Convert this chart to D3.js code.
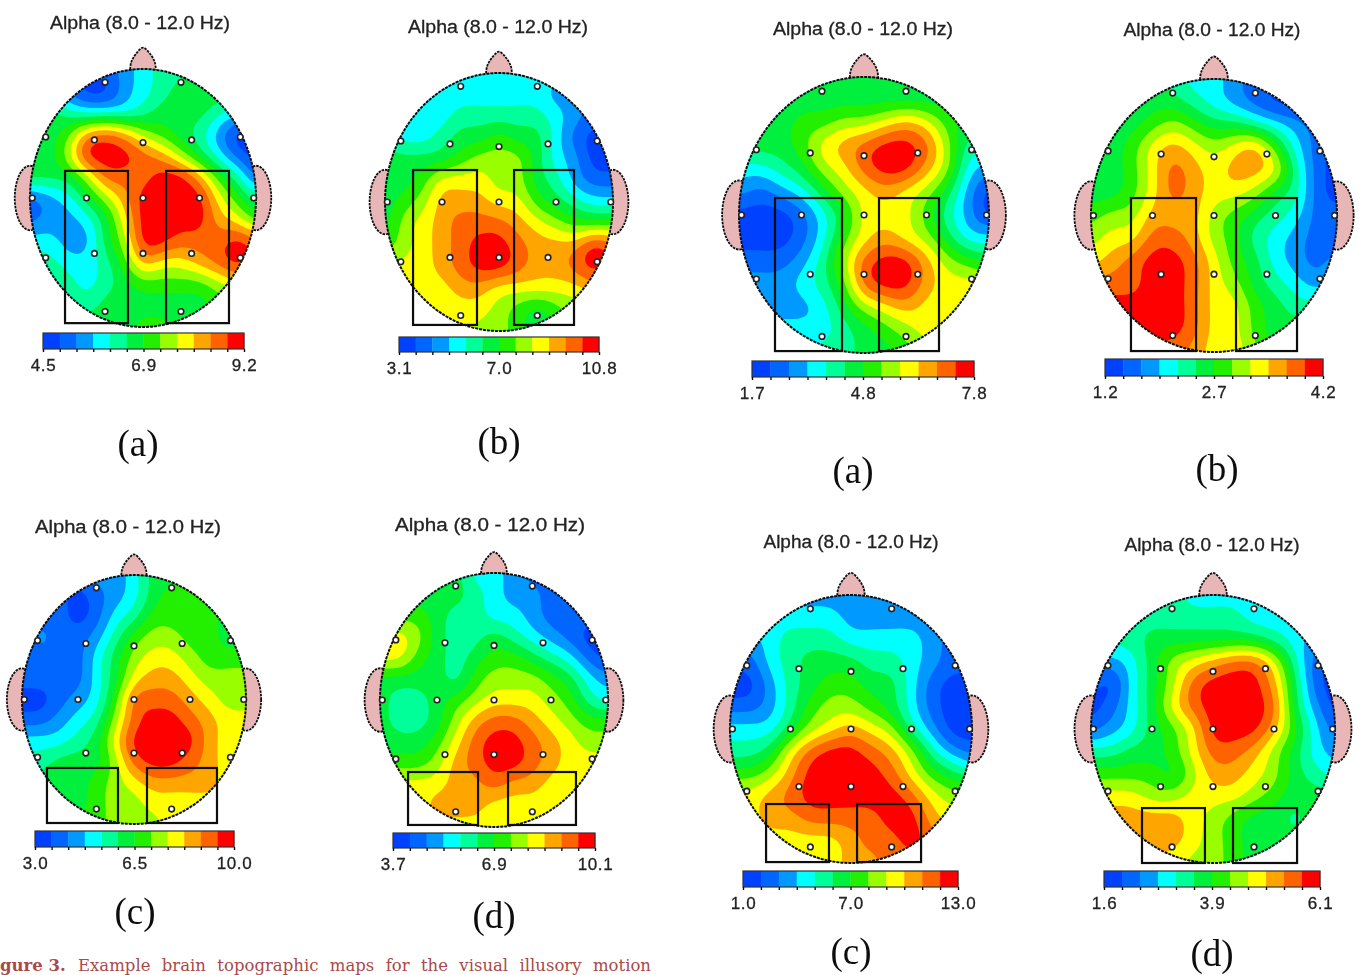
<!DOCTYPE html>
<html lang="en">
<head>
<meta charset="UTF-8">
<title>Alpha topographic maps</title>
<script src="https://cdn.jsdelivr.net/npm/d3@7"></script>
<style>
  html, body { margin: 0; padding: 0; background: #fff; overflow: hidden; }
  svg { display: block; }
  text { font-family: "Liberation Sans", Arial, sans-serif; fill: #222; }
  .panel-label { font-family: "Liberation Serif", serif; font-size: 37px; fill: #111; }
  .caption { font-family: "DejaVu Serif", serif; font-size: 16.5px; fill: #a84a4a; }
</style>
</head>
<body>
<svg id="chart" width="1359" height="975"></svg>
<script>
// 12 colour bands of the scale, blue to red
const bandColors = ["#0040ff", "#0066ff", "#0099ff", "#00ffff", "#00ff99", "#00f03c",
                    "#22f000", "#99ff00", "#ffff00", "#ffa500", "#ff6400", "#ff0000"];

// electrode positions in head units (-1..1), 10-20 layout
const electrodeX = [-.336, .336, -.861, -.43, 0, .43, .861, -.98, -.5, 0, .5, .98, -.861, -.43, 0, .43, .861, -.336, .336];
const electrodeY = [-.897, -.897, -.473, -.45, -.43, -.45, -.473, 0, 0, 0, 0, 0, .464, .43, .43, .43, .464, .88, .88];

// nose outline in head units
const noseOutline = [[-.115, -.97], [-.105, -1.05], [-.06, -1.12], [0, -1.165], [.06, -1.12], [.105, -1.05], [.115, -.97]];

// colour band, 13 x 13 nodes across the head
const mapA1 = [
  [2,2,1,1,1,2,3,4,4,5,5,5,5],
  [2,2,1,0,0,2,3,4,5,5,5,5,5],
  [5,5,4,3,3,3,4,5,5,5,4,3,3],
  [5,5,6,9,10,9,7,6,5,4,2,0,0],
  [5,5,7,11,11,11,10,9,7,5,3,1,0],
  [5,5,5,7,10,10,10,11,11,9,6,4,1],
  [1,2,3,5,7,9,11,11,11,11,8,6,4],
  [1,2,2,3,5,8,11,11,11,11,9,8,6],
  [3,3,2,2,5,7,11,11,10,10,10,11,10],
  [4,4,3,3,4,6,9,8,8,9,10,11,10],
  [5,5,4,3,4,5,6,6,6,6,7,8,8],
  [5,5,5,4,5,5,5,5,5,5,6,6,6],
  [5,5,5,5,5,5,6,6,5,5,5,5,5]
];
const mapB1 = [
  [3,3,3,3,3,3,3,3,3,3,2,2,2],
  [3,3,3,3,3,3,3,3,3,2,2,1,1],
  [3,3,3,3,4,4,4,4,4,3,2,1,1],
  [4,3,3,4,5,5,6,5,5,3,1,0,0],
  [5,5,5,5,6,7,7,7,5,3,2,0,0],
  [5,5,6,8,8,8,7,7,5,4,2,1,1],
  [5,6,7,9,9,9,8,8,6,5,4,3,3],
  [5,7,8,9,10,10,10,9,8,7,6,6,6],
  [6,7,8,9,10,11,11,10,9,9,9,11,10],
  [7,8,8,9,10,11,11,10,9,9,10,11,10],
  [8,8,8,8,9,9,8,8,8,8,8,9,9],
  [8,8,8,8,8,8,7,6,5,6,7,7,7],
  [8,8,8,8,8,7,7,6,5,6,6,6,6]
];
const mapC1 = [
  [5,5,5,5,5,5,5,5,5,5,5,5,5],
  [4,4,4,5,5,5,5,5,5,5,5,5,5],
  [5,5,5,6,6,7,7,8,9,8,6,5,5],
  [5,5,5,6,8,9,10,11,11,10,7,4,4],
  [3,3,4,5,7,8,10,11,11,9,7,3,2],
  [2,1,2,3,5,7,8,9,8,7,5,2,0],
  [0,0,0,1,3,5,8,8,8,6,4,2,0],
  [0,0,0,1,3,6,8,9,8,7,5,3,3],
  [1,1,1,2,4,7,10,11,11,9,7,6,5],
  [2,2,2,3,4,6,10,11,11,9,8,8,8],
  [2,2,2,2,3,5,7,8,9,8,8,8,8],
  [3,3,3,3,3,4,5,6,7,8,8,8,8],
  [3,3,3,3,4,4,5,5,6,7,7,7,7]
];
const mapD1 = [
  [5,5,5,5,4,3,3,2,1,1,1,1,1],
  [5,5,5,5,5,4,3,2,1,0,0,0,0],
  [5,5,5,6,7,6,5,5,4,3,2,1,0],
  [5,5,6,8,9,8,7,8,9,6,3,1,0],
  [5,5,6,8,10,9,8,9,9,8,4,1,0],
  [5,5,6,8,10,9,8,8,7,5,4,1,0],
  [6,7,7,9,9,9,7,6,5,4,3,1,1],
  [7,8,8,10,10,9,7,6,4,3,2,1,1],
  [8,9,10,11,11,10,8,6,5,3,2,1,2],
  [10,10,10,11,11,10,8,7,5,4,3,2,3],
  [11,11,11,11,11,10,8,8,6,5,4,4,4],
  [11,11,11,11,11,10,8,8,6,5,5,5,5],
  [10,10,10,10,10,9,8,8,7,5,5,5,5]
];
const mapA2 = [
  [1,1,1,1,2,2,3,5,5,5,5,5,5],
  [1,1,1,0,1,2,3,5,6,6,6,6,6],
  [1,1,1,0,1,3,4,6,6,6,6,5,5],
  [1,2,1,1,2,4,6,7,7,6,6,5,5],
  [1,1,1,1,3,5,7,8,8,7,6,6,6],
  [1,1,1,1,3,5,8,9,9,8,7,7,7],
  [0,0,1,2,3,6,10,10,10,9,8,7,7],
  [1,1,2,3,4,7,10,11,11,10,9,8,8],
  [3,3,3,4,5,8,11,11,11,11,9,8,8],
  [4,4,5,5,5,7,10,11,11,10,9,8,8],
  [5,5,5,5,6,7,8,9,9,9,9,8,8],
  [5,5,5,5,6,7,7,8,8,8,8,8,8],
  [5,5,5,6,6,7,7,7,8,8,8,8,8]
];
const mapB2 = [
  [5,5,5,5,5,3,3,2,1,1,1,0,0],
  [5,5,5,5,5,4,3,2,2,1,1,1,0],
  [6,6,6,5,4,4,3,3,2,1,1,1,0],
  [8,8,7,5,4,4,5,4,3,2,1,0,0],
  [8,8,6,5,4,5,6,6,5,4,3,1,0],
  [5,5,5,5,4,6,7,7,7,6,5,3,2],
  [5,4,4,5,6,7,8,8,8,7,6,4,3],
  [5,4,4,5,7,9,10,10,9,8,7,6,6],
  [5,5,5,6,8,10,11,11,10,9,8,7,7],
  [6,6,6,7,9,10,11,11,10,9,8,8,8],
  [8,8,8,8,9,9,10,9,9,8,8,8,8],
  [8,8,8,9,9,9,8,8,8,8,8,8,8],
  [8,8,8,8,8,8,8,8,8,8,8,8,8]
];
const mapC2 = [
  [2,2,2,2,2,2,2,2,2,2,2,2,2],
  [3,3,3,3,3,3,2,2,2,2,2,2,2],
  [2,2,3,4,4,4,3,3,3,3,2,1,1],
  [1,1,3,4,5,5,5,4,4,3,2,1,1],
  [0,0,2,4,5,6,6,5,5,3,1,0,0],
  [1,1,2,4,6,7,7,6,5,3,1,0,0],
  [3,3,3,5,7,8,9,8,7,4,2,0,0],
  [4,4,5,8,10,11,11,10,9,7,4,2,1],
  [6,6,7,9,11,11,11,11,10,8,6,5,4],
  [8,8,9,10,11,11,11,11,11,10,8,7,7],
  [8,8,9,9,10,10,10,10,11,11,9,8,8],
  [8,8,8,8,8,8,9,10,10,11,10,9,9],
  [8,8,8,8,8,8,9,9,10,10,10,10,10]
];
const mapD2 = [
  [4,4,4,4,4,3,3,3,3,3,3,3,3],
  [4,4,4,4,4,4,4,4,3,3,3,3,3],
  [4,4,4,5,5,5,5,5,5,4,3,2,2],
  [2,2,3,5,7,8,9,10,10,8,4,1,0],
  [1,0,3,5,7,10,11,11,11,9,5,1,0],
  [0,1,3,5,8,10,11,11,11,10,5,2,0],
  [1,2,3,5,6,8,11,11,11,9,6,3,1],
  [4,4,5,5,6,8,10,10,9,7,5,3,2],
  [6,6,6,6,5,7,9,9,8,7,5,4,3],
  [8,8,8,7,7,8,8,8,7,6,5,5,5],
  [9,9,9,9,9,8,7,6,5,5,4,5,5],
  [9,9,9,9,9,8,7,6,5,5,5,5,5],
  [8,8,8,8,8,7,7,6,5,5,5,5,5]
];

// colour bar labels, low / mid / high
const labelsA1 = ["4.5", "6.9", "9.2"];
const labelsB1 = ["3.1", "7.0", "10.8"];
const labelsC1 = ["1.7", "4.8", "7.8"];
const labelsD1 = ["1.2", "2.7", "4.2"];
const labelsA2 = ["3.0", "6.5", "10.0"];
const labelsB2 = ["3.7", "6.9", "10.1"];
const labelsC2 = ["1.0", "7.0", "13.0"];
const labelsD2 = ["1.6", "3.9", "6.1"];

const titleText = "Alpha (8.0 - 12.0 Hz)";

// page layout of the eight maps. box = the two marked regions in head units
const panels = [
  {map: mapA1, labels: labelsA1, name: "(a)", cx: 143, cy: 198, rx: 113, ry: 129, title: [140, 23, 180], bar: [43, 244, 333, 349], nameAt: [138, 445],
   boxes: [[-.69, -.21, -.133, .97], [.204, -.21, .761, .97]]},
  {map: mapB1, labels: labelsB1, name: "(b)", cx: 499, cy: 202, rx: 114, ry: 129, title: [498, 27, 180], bar: [399, 599, 337, 352], nameAt: [499, 443],
   boxes: [[-.754, -.248, -.193, .953], [.132, -.248, .658, .953]]},
  {map: mapC1, labels: labelsC1, name: "(a)", cx: 864, cy: 215, rx: 125, ry: 138, title: [863, 29, 180], bar: [752, 974, 361, 377], nameAt: [853, 472],
   boxes: [[-.712, -.123, -.176, .986], [.12, -.123, .6, .986]]},
  {map: mapD1, labels: labelsD1, name: "(b)", cx: 1214, cy: 215.5, rx: 123, ry: 136.5, title: [1212, 30, 177], bar: [1105, 1323, 359, 376], nameAt: [1217, 470],
   boxes: [[-.675, -.128, -.146, .993], [.179, -.128, .675, .993]]},
  {map: mapA2, labels: labelsA2, name: "(c)", cx: 134, cy: 699.5, rx: 112, ry: 124.5, title: [128, 527, 186], bar: [35, 234, 831, 847], nameAt: [135, 913],
   boxes: [[-.777, .55, -.143, .992], [.116, .55, .741, .992]]},
  {map: mapB2, labels: labelsB2, name: "(d)", cx: 494, cy: 700, rx: 114, ry: 127, title: [490, 525, 190], bar: [393, 595, 833, 848], nameAt: [494, 917],
   boxes: [[-.754, .567, -.14, .984], [.123, .567, .719, .984]]},
  {map: mapC2, labels: labelsC2, name: "(c)", cx: 851, cy: 729, rx: 121, ry: 134, title: [851, 542, 175], bar: [743, 958, 871, 887], nameAt: [851, 953],
   boxes: [[-.702, .56, -.182, .993], [.05, .56, .579, .993]]},
  {map: mapD2, labels: labelsD2, name: "(d)", cx: 1213, cy: 729, rx: 122, ry: 134, title: [1212, 545, 175], bar: [1104, 1320, 871, 887], nameAt: [1212, 955],
   boxes: [[-.582, .59, -.066, 1.0], [.164, .59, .689, 1.0]]}
];

const svg = d3.select("#chart");
const defs = svg.append("defs");
defs.append("filter").attr("id", "soft")
  .attr("x", "-5%").attr("y", "-5%").attr("width", "110%").attr("height", "110%")
  .append("feGaussianBlur").attr("stdDeviation", 0.45);

// Catmull-Rom weights, keeps the read values at the nodes
function cubic(a, b, c, d, t) {
  return b + 0.5 * t * (c - a + t * (2 * a - 5 * b + 4 * c - d + t * (3 * (b - c) + d - a)));
}

// stretch the read grid to a finer one so the contour lines come out smooth
function fineGrid(map, k) {
  const n = map.length, size = (n - 1) * k + 1;
  const at = (r, c) => map[Math.max(0, Math.min(n - 1, r))][Math.max(0, Math.min(n - 1, c))];
  const out = new Float64Array(size * size);
  for (let j = 0; j < size; j++) {
    for (let i = 0; i < size; i++) {
      const c0 = Math.min(Math.floor(i / k), n - 2), r0 = Math.min(Math.floor(j / k), n - 2);
      const tx = i / k - c0, ty = j / k - r0;
      const rows = [-1, 0, 1, 2].map(dr =>
        cubic(at(r0 + dr, c0 - 1), at(r0 + dr, c0), at(r0 + dr, c0 + 1), at(r0 + dr, c0 + 2), tx));
      out[j * size + i] = 0.5 + cubic(rows[0], rows[1], rows[2], rows[3], ty);
    }
  }
  d3.blur2({data: out, width: size, height: size}, k * 0.3);
  return {data: out, size};
}

panels.forEach((p, idx) => {
  const g = svg.append("g").attr("filter", "url(#soft)");
  const x = d3.scaleLinear([-1, 1], [p.cx - p.rx, p.cx + p.rx]);
  const y = d3.scaleLinear([-1, 1], [p.cy - p.ry, p.cy + p.ry]);

  g.append("text")
    .attr("x", p.title[0]).attr("y", p.title[1] + 6)
    .attr("text-anchor", "middle")
    .attr("font-size", 18)
    .attr("stroke", "#222").attr("stroke-width", 0.3)
    .attr("textLength", p.title[2]).attr("lengthAdjust", "spacingAndGlyphs")
    .text(titleText);

  // ears then nose, behind the scalp
  [-1, 1].forEach(side => {
    g.append("ellipse")
      .attr("cx", x(side * 1.0)).attr("cy", y(0))
      .attr("rx", p.rx * 0.135).attr("ry", p.ry * 0.25)
      .attr("fill", "#e8b6b6").attr("stroke", "#111")
      .attr("stroke-width", 1.8).attr("stroke-dasharray", "2.5 1");
  });
  const nose = d3.line().x(d => x(d[0])).y(d => y(d[1])).curve(d3.curveCatmullRom);
  g.append("path").attr("d", nose(noseOutline))
    .attr("fill", "#e8b6b6").attr("stroke", "#111")
    .attr("stroke-width", 1.8).attr("stroke-dasharray", "2.5 1");

  // filled bands
  const clipId = "scalp" + idx;
  defs.append("clipPath").attr("id", clipId).append("ellipse")
    .attr("cx", x(0)).attr("cy", y(0)).attr("rx", p.rx).attr("ry", p.ry);

  const k = 6;
  const grid = fineGrid(p.map, k);
  const contours = d3.contours().size([grid.size, grid.size])
    .thresholds(d3.range(0, bandColors.length))(Array.from(grid.data));
  const toHead = d3.geoTransform({
    point(a, b) {
      this.stream.point(x((a - 0.5) / (grid.size - 1) * 2 - 1), y((b - 0.5) / (grid.size - 1) * 2 - 1));
    }
  });
  const bandPath = d3.geoPath(toHead);
  g.append("g").attr("clip-path", `url(#${clipId})`)
    .selectAll("path").data(contours).join("path")
    .attr("d", bandPath)
    .attr("fill", d => bandColors[d.value]);

  g.append("ellipse")
    .attr("cx", x(0)).attr("cy", y(0)).attr("rx", p.rx).attr("ry", p.ry)
    .attr("fill", "none").attr("stroke", "#111")
    .attr("stroke-width", 2).attr("stroke-dasharray", "3 1");

  // electrodes
  g.append("g").selectAll("circle").data(electrodeX).join("circle")
    .attr("cx", d => x(d))
    .attr("cy", (d, i) => y(electrodeY[i]))
    .attr("r", 2.8)
    .attr("fill", "#fff").attr("stroke", "#222").attr("stroke-width", 1.6);

  // marked regions
  g.append("g").selectAll("rect").data(p.boxes).join("rect")
    .attr("x", d => x(d[0])).attr("y", d => y(d[1]))
    .attr("width", d => x(d[2]) - x(d[0])).attr("height", d => y(d[3]) - y(d[1]))
    .attr("fill", "none").attr("stroke", "#111").attr("stroke-width", 2.2);

  // colour bar
  const [bx0, bx1, by0, by1] = p.bar;
  const barX = d3.scaleLinear([0, bandColors.length], [bx0, bx1]);
  const bar = g.append("g");
  bar.selectAll("rect").data(bandColors).join("rect")
    .attr("x", (d, i) => barX(i)).attr("y", by0)
    .attr("width", (d, i) => barX(i + 1) - barX(i) + 0.3).attr("height", by1 - by0)
    .attr("fill", d => d);
  bar.append("rect").attr("x", bx0).attr("y", by0).attr("width", bx1 - bx0).attr("height", by1 - by0)
    .attr("fill", "none").attr("stroke", "#333").attr("stroke-width", 1.2);
  const axis = d3.axisBottom(barX)
    .tickValues(d3.range(0, bandColors.length + 1))
    .tickSize(3).tickPadding(7)
    .tickFormat(i => i % 6 === 0 ? p.labels[i / 6] : "");
  const ax = bar.append("g").attr("transform", `translate(0,${by1})`).call(axis);
  ax.select(".domain").remove();
  ax.selectAll("line").attr("stroke", "#111").attr("stroke-width", 1.4);
  ax.selectAll("text").attr("font-size", 17).attr("letter-spacing", 0.6)
    .attr("stroke", "#222").attr("stroke-width", 0.3)
    .style("font-family", '"Liberation Sans", Arial, sans-serif').attr("fill", "#222");

  g.append("text").attr("class", "panel-label")
    .attr("x", p.nameAt[0]).attr("y", p.nameAt[1] + 11)
    .attr("text-anchor", "middle")
    .text(p.name);
});

// caption of the paper the figure was taken from, its start is cut off in the source
const cap = svg.append("text").attr("class", "caption").attr("y", 971);
cap.append("tspan").attr("x", 0).attr("font-weight", "bold").text("gure 3.");
const capText = svg.append("text").attr("class", "caption").attr("x", 78).attr("y", 971)
  .text("Example brain topographic maps for the visual illusory motion");
const spare = 573 - capText.node().getComputedTextLength();
capText.attr("word-spacing", spare / 8);
</script>
</body>
</html>
